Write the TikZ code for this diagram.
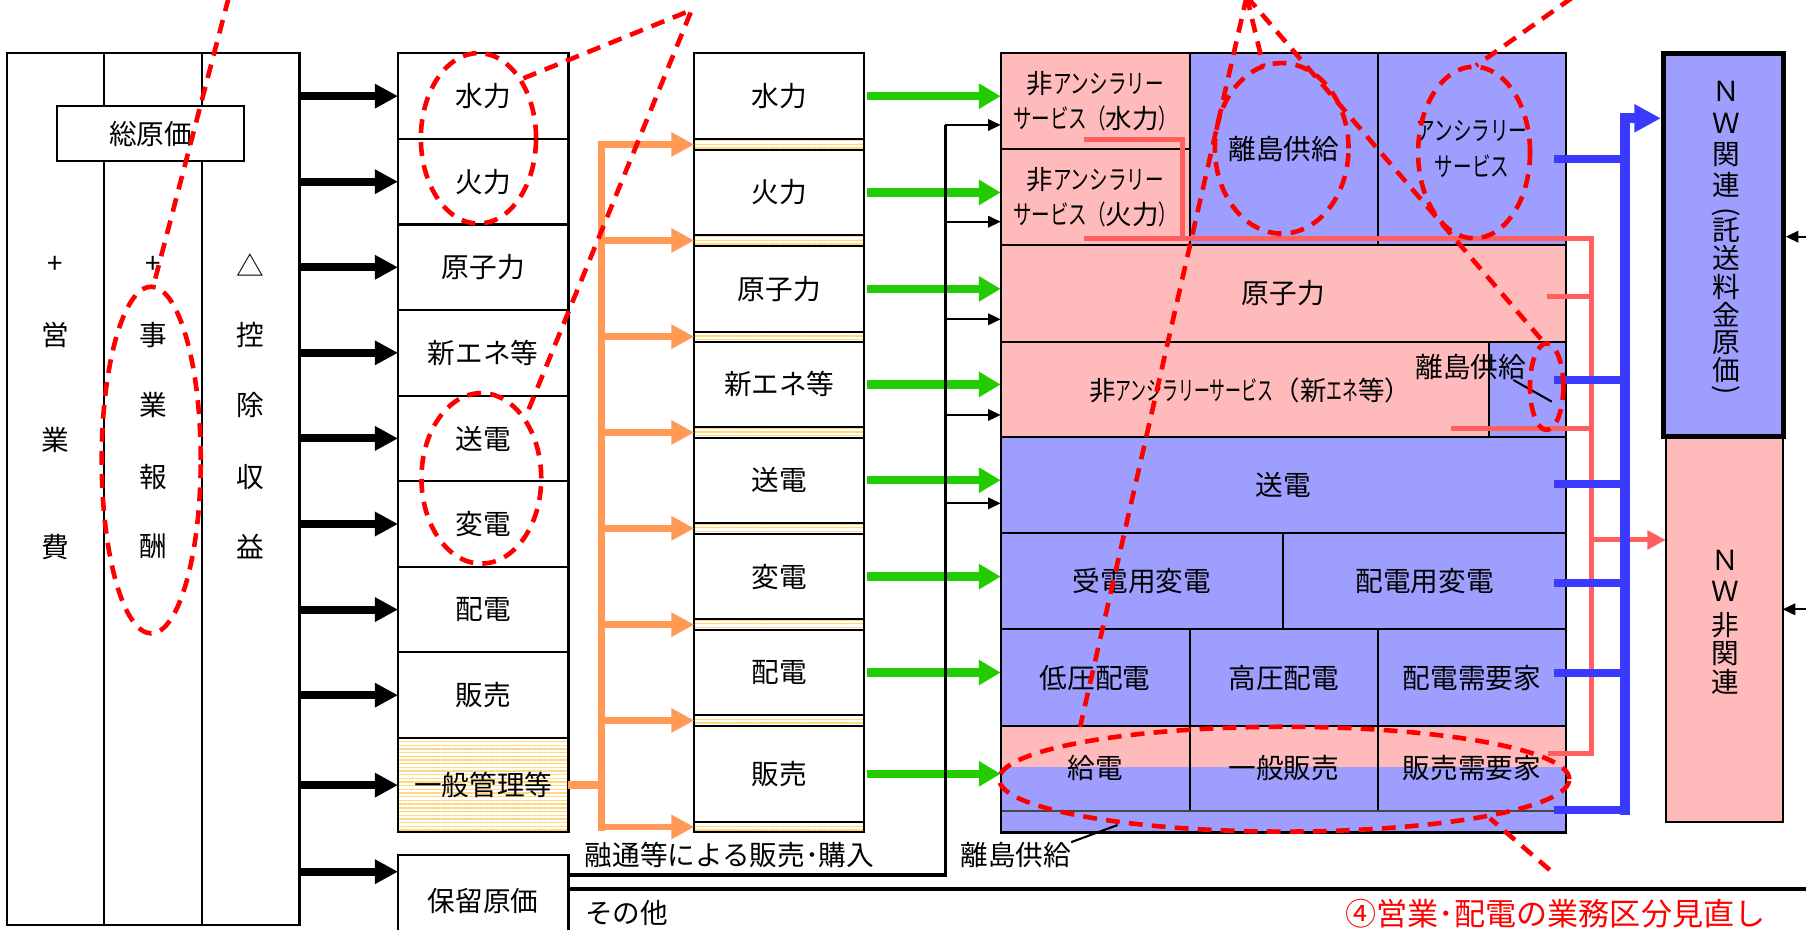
\documentclass[tikz,border=0pt]{standalone}
\usepackage{fontspec}
\setmainfont{Noto Sans CJK JP}
\usetikzlibrary{arrows.meta,patterns.meta}
\definecolor{pinkf}{RGB}{255,187,187}
\definecolor{bluef}{RGB}{158,158,255}
\definecolor{blueln}{RGB}{58,58,255}
\definecolor{pinkln}{RGB}{255,95,95}
\definecolor{greenln}{RGB}{34,204,0}
\definecolor{orangeln}{RGB}{255,153,85}
\definecolor{hatchc}{RGB}{255,214,120}
\definecolor{grayln}{RGB}{70,70,70}
\newcommand{\hkA}[1]{\scalebox{0.7}[1]{#1}}
\newcommand{\hkB}[1]{\scalebox{0.6}[1]{#1}}
\tikzset{
  bx/.style={draw=black, line width=0.9pt, inner sep=0pt, outer sep=0pt},
  txt/.style={inner sep=0pt, outer sep=0pt},
  bigarr/.style={line width=3.5pt, -{Triangle[length=10pt,width=10pt]}},
  garr/.style={draw=greenln, line width=3.6pt, -{Triangle[length=9.5pt,width=10.5pt]}},
  oline/.style={draw=orangeln, line width=3.2pt},
  oarr/.style={draw=orangeln, line width=3pt, -{Triangle[length=10pt,width=10pt]}},
  sarr/.style={line width=0.9pt, -{Triangle[length=5.5pt,width=5pt]}},
  bline/.style={draw=blueln, line width=3.6pt},
  barr/.style={draw=blueln, line width=4.3pt, -{Triangle[length=11.5pt,width=11.5pt]}},
  pline/.style={draw=pinkln, line width=2.2pt},
  parr/.style={draw=pinkln, line width=2.2pt, -{Triangle[length=8pt,width=8pt]}},
  rdash/.style={draw=red, line width=2pt, dash pattern=on 6pt off 4pt},
  hatchfill/.style={pattern={Lines[angle=0,distance=1.6pt,line width=0.6pt]}, pattern color=hatchc},
}
\begin{document}
\begin{tikzpicture}[x=0.5pt,y=-0.5pt,font=\fontsize{12}{14}\selectfont]
\useasboundingbox (0,0) rectangle (1568,807);
\fill[white] (0,0) rectangle (1568,807);

% ---------- left total-cost box ----------
\node[bx, minimum width=127pt, minimum height=378.35pt] (costbox) at (133,424.65) {};
\draw[bx] (90.4,46.3) -- (90.4,803);
\draw[bx] (175.1,46.3) -- (175.1,803);
\node[bx, fill=white, minimum width=81pt, minimum height=24pt] (sogen) at (130.75,116) {総原価};
\foreach \c/\xx/\yy [count=\i] in {+/48.2/230, 営/48.2/291, 業/48.2/382, 費/48.2/474.6,
  +/132.75/230, 事/132.75/291, 業/132.75/351.6, 報/132.75/413.8, 酬/132.75/474.6,
  △/217.55/230, 控/217.55/291, 除/217.55/351.6, 収/217.55/413.8, 益/217.55/474.6}
  {\node[txt] (lc\i) at (\xx,\yy) {\c};}

% ---------- column B ----------
\foreach \n/\t/\yc in {1/水力/83.45, 2/火力/157.75, 3/原子力/232.05, 4/新エネ等/306.35,
  5/送電/380.65, 6/変電/454.95, 7/配電/529.25, 8/販売/603.55}
  {\node[bx, minimum width=74pt, minimum height=37.15pt] (b\n) at (419.55,\yc) {\t};}
\node[bx, hatchfill, minimum width=74pt, minimum height=40.95pt] (b9) at (419.55,681.65) {一般管理等};
\node[bx, minimum width=74pt, minimum height=40pt] (hold) at (419.55,782.3) {保留原価};
\foreach \n in {1,...,9}{\draw[bigarr] (costbox.east |- b\n.west) -- (b\n.west);}
\coordinate (harr) at (300,756.8);
\draw[bigarr] (costbox.east |- harr) -- (hold.west |- harr);

% ---------- column C ----------
\foreach \n/\t/\yc/\h in {1/水力/83.5/37.2, 2/火力/167.1/36.9, 3/原子力/250.8/37.2, 4/新エネ等/333.8/37.2,
  5/送電/416.9/36.9, 6/変電/500.65/37.05, 7/配電/583.9/36.9, 8/販売/671.85/41.55}
  {\node[bx, minimum width=73.8pt, minimum height=\h pt] (c\n) at (676.6,\yc) {\t};}
\foreach \n/\yc/\h in {1/125.45/4.75, 2/208.8/4.8, 3/292.3/4.3, 4/375.5/4.5,
  5/458.7/4.9, 6/542.35/4.65, 7/625.55/4.75, 8/718/4.6}
  {\node[bx, hatchfill, minimum width=73.8pt, minimum height=\h pt] (s\n) at (676.6,\yc) {};}

% orange distribution
\coordinate (ov) at (522.1,0);
\draw[oline] (b9.east) -- (b9.east -| ov);
\draw[oline, line cap=rect] (s1.west -| ov) -- (s8.west -| ov);
\foreach \n in {1,...,8}{\draw[oarr] (s\n.west -| ov) -- (s\n.west);}

% ---------- column D ----------
\node[bx, fill=pinkf, minimum width=82pt, minimum height=41.6pt, align=center, font=\fontsize{11.5}{15.5}\selectfont] (dhy) at (950.8,87.9) {非\hkA{アンシラリー}\\\hkA{サービス（}水力\hkA{）}};
\node[bx, fill=pinkf, minimum width=82pt, minimum height=41.65pt, align=center, font=\fontsize{11.5}{15.5}\selectfont] (dth) at (950.8,171.15) {非\hkA{アンシラリー}\\\hkA{サービス（}火力\hkA{）}};
\node[bx, fill=bluef, minimum width=81.75pt, minimum height=83.25pt] (dri) at (1114.55,129.55) {離島供給};
\node[bx, fill=bluef, minimum width=81.7pt, minimum height=83.25pt, align=center, font=\fontsize{11.5}{15.5}\selectfont] (dan) at (1278,129.55) {\hkA{アンシラリー}\\\hkA{サービス}};
\node[bx, fill=pinkf, minimum width=245.45pt, minimum height=41.9pt] (dnu) at (1114.25,254.7) {原子力};
\node[bx, fill=pinkf, minimum width=245.45pt, minimum height=41.25pt] (dne) at (1114.25,337.85) {};
\node[bx, fill=bluef, minimum width=33.65pt, minimum height=41.25pt] (dner) at (1326.05,337.85) {};
\node[bx, fill=bluef, minimum width=245.45pt, minimum height=42pt] (dtr) at (1114.25,421.1) {送電};
\node[bx, fill=bluef, minimum width=122.7pt, minimum height=41.65pt] (dju) at (991.5,504.75) {受電用変電};
\node[bx, fill=bluef, minimum width=122.75pt, minimum height=41.65pt] (dhd) at (1236.95,504.75) {配電用変電};
\node[bx, fill=bluef, minimum width=82pt, minimum height=41.85pt] (dlv) at (950.8,588.25) {低圧配電};
\node[bx, fill=bluef, minimum width=81.75pt, minimum height=41.85pt] (dhv) at (1114.55,588.25) {高圧配電};
\node[bx, fill=bluef, minimum width=81.7pt, minimum height=41.85pt] (ddc) at (1278,588.25) {配電需要家};
\fill[pinkf] (868.8,630.6) rectangle (1359.7,666.2);
\fill[bluef] (868.8,666.2) rectangle (1359.7,722.8);
\draw[bx] (868.8,630.1) -- (1359.7,630.1);
\draw[bx] (1032.8,630.1) -- (1032.8,704.1);
\draw[bx] (1196.3,630.1) -- (1196.3,704.1);
\draw[draw=grayln, line width=1pt] (868.8,704.1) -- (1359.7,704.1);
\node[txt] (dkd) at (950.8,667.1) {給電};
\node[txt] (dgs) at (1114.55,667.1) {一般販売};
\node[txt] (dhj) at (1278,667.1) {販売需要家};
\node[bx, minimum width=245.45pt, minimum height=338.25pt] (dframe) at (1114.25,384.55) {};
\node[txt, font=\fontsize{11.5}{14}\selectfont] (nesh) at (1085.4,338.6) {非\hkB{アンシラリーサービス}（新\hkB{エネ}等）};
\node[txt] (rito1) at (1277,318.3) {離島供給};
\coordinate (ld2a) at (1313.9,329.9);
\coordinate (ld2b) at (1347.2,348.7);
\draw[line width=0.9pt] (ld2a) -- (ld2b);
\node[txt] (rito2) at (882,742.3) {離島供給};
\coordinate (ld1) at (970.3,716.3);
\draw[line width=0.9pt] (rito2.north east) -- (ld1);

% green arrows
\foreach \n in {1,...,8}{\draw[garr] ([xshift=1pt]c\n.east) -- (c\n.east -| dframe.west);}

% thin black connector
\coordinate (kb) at (820.8,759.7);
\coordinate (kt) at (820.8,108.5);
\draw[line width=1.6pt] (hold.east |- kb) -- (kb) -- (kt);
\draw[sarr] (kt) -- (kt -| dframe.west);
\foreach \yy [count=\i] in {192.5,277.2,360.3,437}{
  \coordinate (ka\i) at (820.8,\yy);
  \draw[sarr] (ka\i) -- (ka\i -| dframe.west);}
\node[txt] (yuzu) at (633.4,742) {融通等による販売･購入};
\coordinate (sonoR) at (1568,772.2);
\draw[line width=1.75pt] (hold.east |- sonoR) -- (sonoR);
\node[txt] (sono) at (544,793) {その他};

% ---------- NW boxes ----------
\node[bx, fill=pinkf, minimum width=50.75pt, minimum height=167.15pt] (nwnon) at (1496.95,546.25) {};
\node[draw=black, line width=2.2pt, fill=bluef, inner sep=0pt, minimum width=52pt, minimum height=166.4pt] (nwrel) at (1496.2,212.7) {};
\foreach \c/\yy [count=\i] in {Ｎ/79.6, Ｗ/107.1, 関/134.6, 連/160.6, 託/199.7, 送/224, 料/248.9, 金/273.5, 原/298, 価/321}
  {\node[txt] (nwa\i) at (1499,\yy) {\c};}
\node[txt, rotate=-90] (nwp1) at (1499,184) {(};
\node[txt, rotate=-90] (nwp2) at (1499,339) {)};
\foreach \c/\yy [count=\i] in {Ｎ/486.2, Ｗ/513.7, 非/542.6, 関/567.2, 連/591.8}
  {\node[txt] (nwb\i) at (1498,\yy) {\c};}
\coordinate (ra1) at (1568,205.5);
\draw[sarr] (ra1) -- (ra1 -| nwrel.east);
\coordinate (ra2) at (1568,529);
\draw[sarr] (ra2) -- (ra2 -| nwnon.east);

% pink connectors
\coordinate (p1) at (941.1,121);
\coordinate (p2) at (1026.8,121);
\coordinate (p3) at (1026.8,206.9);
\coordinate (p4) at (941.1,206.9);
\coordinate (p5) at (1381.9,206.9);
\coordinate (p6) at (1381.9,654);
\coordinate (p7) at (1344.3,654);
\draw[pline] (p1) -- (p2) -- (p3);
\draw[pline] (p4) -- (p5) -- (p6) -- (p7);
\coordinate (p8) at (1342.8,257.6);
\draw[pline] (p8) -- (p8 -| p5);
\coordinate (p9) at (1260,371.9);
\draw[pline] (p9) -- (p9 -| p5);
\coordinate (p10) at (1381.9,468.8);
\draw[parr] (p10) -- (p10 -| nwnon.west);

% blue connectors
\coordinate (bv) at (1410.8,0);
\foreach \yy [count=\i] in {138.3,329.9,420.2,506.4,584.6,703.3}{
  \coordinate (bs\i) at (1349,\yy);
  \draw[bline] (bs\i) -- (bs\i -| bv);}
\coordinate (btop) at (1410.8,102.7);
\coordinate (bbot) at (1410.8,707.5);
\draw[barr, line join=miter] (bbot) -- (btop) -- (btop -| nwrel.west);

% ---------- red dashed marks ----------
\draw[rdash] (131.3,399.4) ellipse [x radius=21.5pt, y radius=75.25pt];
\draw[rdash] (415.4,120.1) ellipse [x radius=25pt, y radius=37pt];
\draw[rdash] (417.9,415.3) ellipse [x radius=26pt, y radius=37pt];
\draw[rdash] (1112.8,128.8) ellipse [x radius=29pt, y radius=37pt];
\draw[rdash] (1279.8,132.4) ellipse [x radius=24.3pt, y radius=37.25pt];
\draw[rdash] (1342.8,335.7) ellipse [x radius=7.25pt, y radius=18.8pt];
\draw[rdash] (1115,676.5) ellipse [x radius=123.75pt, y radius=22.75pt];
\coordinate (a1) at (198.5,-2);
\coordinate (a1e) at (133.5,247);
\draw[rdash] (a1) -- (a1e);
\coordinate (a2s) at (454.4,68);
\coordinate (a2p) at (600.5,8.7);
\coordinate (a2e) at (457,360.3);
\draw[rdash, line join=miter] (a2s) -- (a2p) -- (a2e);
\coordinate (apx) at (1082.4,-3);
\coordinate (a3e) at (937.8,631);
\coordinate (a4e) at (1097,58);
\coordinate (a5e) at (1341,298);
\draw[rdash] (apx) -- (a3e);
\draw[rdash] (apx) -- (a4e);
\draw[rdash] (apx) -- (a5e);
\coordinate (a6s) at (1365,-2);
\coordinate (a6e) at (1281.5,57);
\draw[rdash] (a6s) -- (a6e);
\coordinate (a7s) at (1345.5,755.3);
\coordinate (a7e) at (1293.6,710.5);
\draw[rdash] (a7s) -- (a7e);
\node[txt, text=red, font=\fontsize{13.5}{16}\selectfont] (minaoshi) at (1350.5,793) {④営業･配電の業務区分見直し};
\end{tikzpicture}
\end{document}
